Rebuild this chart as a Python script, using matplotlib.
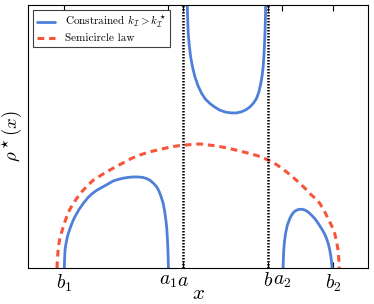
import matplotlib
matplotlib.use('Agg')
import matplotlib.pyplot as plt

plt.rcParams['font.family'] = 'serif'
plt.rcParams['font.serif'] = ['cmr10', 'DejaVu Serif']
plt.rcParams['mathtext.fontset'] = 'cm'
plt.rcParams['axes.formatter.use_mathtext'] = True

# constrained density, three pieces
left_x = [-1.897, -1.893, -1.887, -1.877, -1.865, -1.853, -1.840, -1.810, -1.780, -1.746,
          -1.690, -1.628, -1.560, -1.500, -1.439, -1.350, -1.280, -1.204, -1.130, -1.060,
          -0.990, -0.922, -0.850, -0.790, -0.732, -0.680, -0.630, -0.591, -0.560, -0.530,
          -0.498, -0.475, -0.460, -0.449, -0.440, -0.433, -0.427, -0.424]
left_y = [0.0, 0.022, 0.046, 0.058, 0.070, 0.080, 0.088, 0.104, 0.118, 0.131,
          0.149, 0.165, 0.180, 0.190, 0.198, 0.207, 0.214, 0.222, 0.226, 0.229,
          0.231, 0.232, 0.232, 0.231, 0.228, 0.223, 0.215, 0.207, 0.197, 0.183,
          0.165, 0.142, 0.122, 0.105, 0.080, 0.055, 0.025, 0.0]

mid_x = [-0.165, -0.158, -0.151, -0.144, -0.128, -0.110, -0.082, -0.049, -0.005, 0.045,
         0.100, 0.163, 0.230, 0.304, 0.385, 0.469, 0.540, 0.611, 0.672, 0.728,
         0.780, 0.823, 0.857, 0.883, 0.902, 0.916, 0.927, 0.936, 0.944, 0.950, 0.956]
mid_y = [0.75, 0.669, 0.632, 0.597, 0.565, 0.538, 0.511, 0.487, 0.464, 0.445,
         0.430, 0.419, 0.410, 0.402, 0.397, 0.395, 0.395, 0.398, 0.403, 0.410,
         0.420, 0.432, 0.449, 0.470, 0.490, 0.512, 0.540, 0.572, 0.608, 0.648, 0.75]

right_x = [1.199, 1.202, 1.208, 1.218, 1.233, 1.258, 1.293, 1.325, 1.364, 1.410, 1.459,
           1.505, 1.552, 1.600, 1.647, 1.695, 1.741, 1.780, 1.812, 1.838, 1.859, 1.877,
           1.891, 1.893]
right_y = [0.0, 0.023, 0.046, 0.068, 0.088, 0.109, 0.126, 0.137, 0.145, 0.149, 0.150,
           0.148, 0.143, 0.135, 0.126, 0.114, 0.101, 0.089, 0.076, 0.062, 0.046, 0.027,
           0.003, 0.0]

# semicircle law
semi_x = [-2.0, -1.998, -1.982, -1.960, -1.934, -1.900, -1.863, -1.820, -1.770, -1.710,
          -1.651, -1.570, -1.487, -1.390, -1.298, -1.180, -1.063, -0.950, -0.827, -0.690,
          -0.544, -0.380, -0.215, 0.021, 0.257, 0.400, 0.540, 0.720, 0.893, 1.057,
          1.150, 1.247, 1.340, 1.435, 1.510, 1.576, 1.650, 1.717, 1.780, 1.835,
          1.890, 1.929, 1.955, 1.976, 1.988, 1.993]
semi_y = [0.0, 0.012, 0.054, 0.075, 0.092, 0.112, 0.131, 0.149, 0.165, 0.180,
          0.194, 0.210, 0.224, 0.235, 0.245, 0.257, 0.268, 0.279, 0.288, 0.296,
          0.302, 0.309, 0.313, 0.316, 0.311, 0.306, 0.300, 0.292, 0.283, 0.269,
          0.258, 0.245, 0.231, 0.216, 0.203, 0.190, 0.178, 0.165, 0.146, 0.126,
          0.106, 0.088, 0.068, 0.046, 0.020, 0.0]

tick_pos = [-1.90, -0.43, -0.22, 0.98, 1.19, 1.90]
tick_labels = ['$b_1$', '$a_1$', '$a$', '$b$', '$a_2$', '$b_2$']
walls = [-0.22, 0.98]

blue = '#4f80d8'
red = '#f7553a'

fig = plt.figure(figsize=(3.74, 3.04), dpi=100)
ax = fig.add_axes([0.075, 0.118, 0.909, 0.866])

style = dict(color=blue, lw=2.0, solid_joinstyle='round', solid_capstyle='round')
ax.plot(left_x, left_y, label=r'Constrained $k_\mathcal{I} > k^\star_\mathcal{I}$', **style)
ax.plot(mid_x, mid_y, **style)
ax.plot(right_x, right_y, **style)
ax.plot(semi_x, semi_y, color=red, lw=2.2, linestyle=(0, (2.2, 1.6)), label='Semicircle law')

for w in walls:
    ax.axvline(w, color='black', lw=1.8, linestyle=(0, (0.6, 0.6)))

ax.set_xlim(-2.41, 2.40)
ax.set_ylim(0, 0.67)
ax.set_xticks(tick_pos)
ax.set_xticklabels(tick_labels, fontsize=14)
ax.set_yticks([])
ax.tick_params(axis='x', direction='in', top=True, length=4, pad=3)
ax.set_xlabel('$x$', fontsize=15, labelpad=-6)
ax.set_ylabel(r'$\rho^\star(x)$', fontsize=13.5)
ax.yaxis.set_label_coords(-0.012, 0.5)

leg = ax.legend(loc='upper left', fontsize=8, fancybox=False, edgecolor='0.25',
                framealpha=1, borderaxespad=0.45, handlelength=1.6, handletextpad=0.9,
                labelspacing=0.3, borderpad=0.35)
leg.get_frame().set_linewidth(0.8)

fig.savefig('out.png', dpi=100)
